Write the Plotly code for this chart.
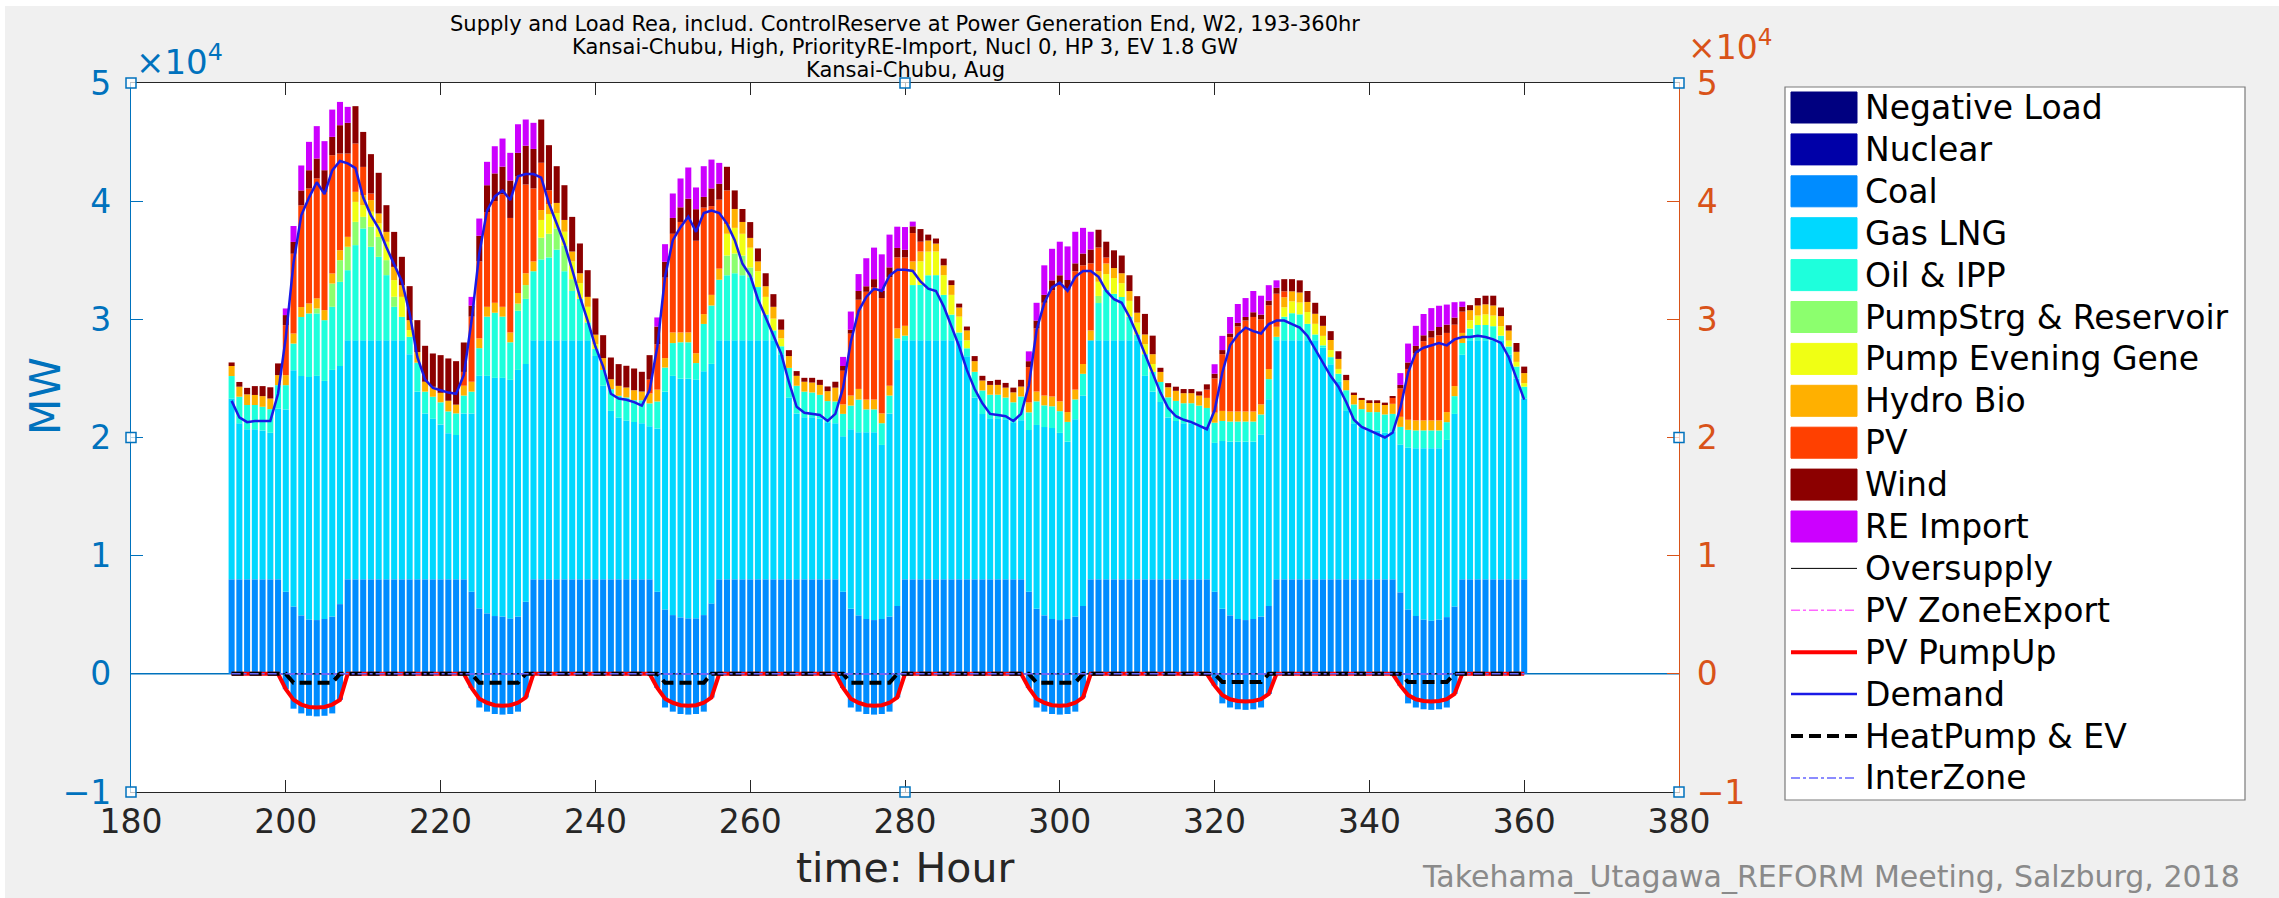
import plotly.graph_objects as go

hours = list(range(193, 361))

coal = [
 8000,8000,8000,8000,8000,8000,8000,6950,5700,4950,4600,4550,4650,4850,5900,8000,8000,8000,8000,8000,8000,8000,8000,8000,
 8000,8000,8000,8000,8000,8000,8000,6950,5540,5120,4890,4850,4690,4850,6100,8000,8000,8000,8000,8000,8000,8000,8000,8000,
 8000,8000,8000,8000,8000,8000,8000,6950,5450,4970,4780,4700,4700,4970,5960,8000,8000,8000,8000,8000,8000,8000,8000,8000,
 8000,8000,8000,8000,8000,8000,8000,6950,5500,4950,4650,4550,4650,4850,5740,8000,8000,8000,8000,8000,8000,8000,8000,8000,
 8000,8000,8000,8000,8000,8000,8000,6950,5500,4950,4650,4550,4650,4850,5740,8000,8000,8000,8000,8000,8000,8000,8000,8000,
 8000,8000,8000,8000,8000,8000,8000,6950,5500,4950,4650,4550,4650,4850,5740,8000,8000,8000,8000,8000,8000,8000,8000,8000,
 8000,8000,8000,8000,8000,8000,8000,6900,5450,4900,4600,4500,4600,4800,5700,8000,8000,8000,8000,8000,8000,8000,8000,8000,
]
gas_lng = [
 15300,13200,12700,12700,12600,12400,14460,15430,20000,20250,20520,20670,20140,20870,20150,20220,20220,20220,20220,20220,20220,20220,20220,19050,
 15880,14040,13600,13110,12370,12210,14040,15090,19680,20100,20160,20200,20190,20870,20120,20220,20220,20220,20220,20220,20220,20220,20220,18900,
 16380,14250,13690,13440,13310,13210,12950,13820,18430,20250,20200,20280,20200,20630,20270,20220,20220,20220,20220,20220,20220,20220,20220,19050,
 15380,14040,13710,13710,13610,13280,13210,13150,15200,15490,15790,15890,14720,17190,20810,20220,20220,20220,20220,20220,20220,20220,20220,18880,
 15390,13980,13620,13620,13540,13280,13470,13680,15560,15930,16150,15840,15000,16700,17810,20220,20220,20220,20220,20220,20220,20220,17220,15880,
 15000,13700,13400,13200,13200,13000,12800,12600,14200,14700,15000,15100,15000,15400,17500,20220,20220,20220,20220,20220,20220,19600,18200,16700,
 14300,13200,12800,12600,12600,12400,12500,12500,13700,14200,14500,14600,14500,15000,16300,19000,20220,20220,20220,20220,20220,19000,17000,15300,
]
oil_ipp = [
 1900,2250,2050,2050,2000,2000,1970,2050,2250,5000,5380,5280,5140,5340,7120,5940,8060,9470,7920,7070,5520,2840,1990,1470,
 2450,1840,1850,1870,1840,1830,1510,1840,2340,5010,5510,5180,3180,5010,5510,5850,6850,7020,7680,5850,4180,3510,1510,600,
 1340,1840,1840,1950,1850,1940,1940,2280,2040,2770,3080,3080,1400,4010,4940,5130,5510,5680,5510,5340,4510,2180,840,670,
 2510,2340,2170,2100,2000,1800,1840,1900,2000,2770,1940,1940,1840,1510,1840,400,4680,4690,5510,5520,3850,2180,670,670,
 2170,2000,2000,2000,1840,1700,2000,1500,2000,1840,1840,1840,1670,1670,1840,0,3160,4270,3940,3670,2000,500,1830,1670,
 1700,1700,1700,1700,1700,1700,1700,1700,1700,1700,1700,1700,1700,1700,1700,300,2000,2300,2200,1400,500,200,600,700,
 1700,1600,1600,1550,1550,1550,1500,1500,1500,1500,1500,1500,1500,1500,1500,1000,1000,1300,1300,1200,400,700,1000,1000,
]
pumpstrg = [
 0,0,0,0,0,0,0,0,0,0,0,420,0,1970,1840,1980,1970,980,1690,1690,1270,850,0,0,
 0,0,0,0,0,0,0,0,0,0,0,0,0,600,1170,0,1840,2000,1800,2170,1000,0,0,0,
 0,0,0,0,0,0,0,0,0,0,0,0,0,0,0,0,1670,1670,1670,830,0,0,0,0,
 0,0,0,0,0,0,0,0,0,0,0,0,0,0,0,0,0,0,0,0,0,0,0,0,
 0,0,0,0,0,0,0,0,0,0,0,0,0,0,0,0,600,0,0,0,0,0,0,0,
 0,0,0,0,0,0,0,0,0,0,0,0,0,0,0,0,0,0,0,0,0,0,0,0,
 0,0,0,0,0,0,0,0,0,0,0,0,0,0,0,0,0,0,0,0,0,0,0,0,
]
pump_evening = [
 0,0,0,0,0,0,0,0,0,0,0,0,0,0,0,0,1690,990,1270,1130,1550,1410,1690,570,
 0,0,0,0,0,0,0,0,0,0,0,0,0,0,0,0,1500,1670,1300,1170,1500,1340,1330,400,
 0,0,0,0,0,0,0,0,0,0,0,0,0,0,0,0,1840,2170,1840,1670,1340,1500,1000,670,
 0,0,0,0,0,0,0,0,0,0,0,0,0,0,0,0,1170,2000,2000,2000,1670,1670,1340,670,
 0,0,0,0,0,0,0,0,0,0,0,0,0,0,0,0,1200,1340,1340,1170,1340,1000,840,670,
 0,0,0,0,0,0,0,0,0,0,0,0,0,0,0,0,800,1000,1000,1000,900,800,600,400,
 0,0,0,0,0,0,0,0,0,0,0,0,0,0,0,0,700,800,900,900,800,500,400,300,
]
hydro_bio = [
 850,850,900,850,900,900,850,850,850,840,840,850,850,850,840,840,850,850,990,850,840,1120,990,840,
 900,840,840,800,900,740,830,840,830,830,840,830,830,900,1000,830,840,840,850,1000,840,830,840,800,
 1000,840,840,840,840,740,840,1000,800,900,830,830,830,830,900,940,830,1600,1000,830,830,900,1000,730,
 1000,840,840,840,840,840,1170,800,850,900,830,830,830,830,840,830,830,830,940,670,830,830,770,840,
 900,840,830,830,840,840,840,830,830,830,830,830,830,830,830,840,900,900,840,840,830,840,830,830,
 850,850,850,850,850,850,850,850,850,850,850,850,850,850,850,850,850,850,850,850,850,850,850,850,
 850,850,850,850,850,850,850,850,850,850,850,850,850,850,850,850,850,850,850,850,850,850,850,850,
]
pv = [
 0,0,0,0,0,0,0,4230,6750,8600,9730,10150,10010,10010,8180,7050,4090,2390,560,0,0,0,0,0,
 0,0,0,0,0,0,1170,5510,6510,8020,8610,9520,9690,9850,7510,6180,4000,1170,0,0,0,0,0,0,
 0,0,0,0,0,0,1170,3840,6810,8350,9350,9550,9520,9020,7510,5840,2840,0,0,0,0,0,0,0,
 0,0,0,0,0,0,0,2850,5240,7550,9120,9520,9760,9190,6010,5790,2400,830,0,0,0,0,0,0,
 0,0,0,0,0,0,0,3000,5340,7850,9000,10000,10350,10020,8350,5680,2000,500,0,0,0,0,0,0,
 0,0,0,0,0,0,700,2900,4800,6300,7200,7700,8000,7200,5400,2800,500,0,0,0,0,0,0,0,
 0,0,0,0,0,0,500,2400,4300,5700,6700,7000,7200,6700,5200,1800,0,0,0,0,0,0,0,0,
]
wind = [
 300,400,550,750,850,950,990,850,1000,1270,1550,1690,1830,1550,2400,2600,3160,2960,3330,3440,2260,2960,2400,2880,
 2700,3040,2820,3190,3580,3680,2490,930,2170,2270,2340,2340,3170,2010,3280,3340,3660,3820,3110,2940,2930,2520,2260,3070,
 1940,1840,1840,1840,1840,1670,2070,1500,1340,1340,1240,1770,2670,900,1500,1340,2000,1570,1100,1340,1100,1100,1070,870,
 500,400,330,400,430,400,500,400,330,740,470,670,600,830,800,640,570,1070,500,430,570,400,330,330,
 430,400,330,430,400,400,570,500,670,670,830,670,830,670,1000,1170,1500,1340,1500,1500,1340,1400,1740,1570,
 350,350,350,350,350,350,450,400,350,300,300,300,400,400,400,500,1030,1030,1030,930,930,850,750,650,
 450,150,100,150,150,150,150,300,550,600,500,600,700,700,600,400,430,630,730,830,730,450,750,550,
]
re_import = [
 0,0,0,0,0,0,0,560,1350,2110,2400,2740,2460,2310,1970,1350,0,0,0,0,0,0,0,0,
 0,0,0,0,0,0,0,740,1460,1980,2300,2380,2340,2420,2220,2210,0,0,0,0,0,0,0,0,
 0,0,0,0,0,0,0,770,1490,2070,2440,2640,1840,2600,2440,1770,0,0,0,0,0,0,0,0,
 0,0,0,0,0,0,0,770,1540,1430,2370,2670,3100,2770,1800,1930,400,0,0,0,0,0,0,0,
 0,0,0,0,0,0,0,830,1500,2500,2670,2840,2840,2670,2170,1500,0,0,0,0,0,0,0,0,
 0,0,0,0,0,0,0,800,1200,1400,1600,1600,1800,1600,1300,630,0,0,0,0,0,0,0,0,
 0,0,0,0,0,0,0,1000,1600,1700,1800,1900,1800,1700,1300,450,0,0,0,0,0,0,0,0,
]
negative_load = [0] * 168
nuclear = [0] * 168
pumpup_bars = [
 0,0,0,0,0,0,0,-1300,-2950,-3350,-3550,-3600,-3550,-3350,-2200,0,0,0,0,0,0,0,0,0,
 0,0,0,0,0,0,0,-1200,-2850,-3200,-3400,-3450,-3400,-3200,-2000,0,0,0,0,0,0,0,0,0,
 0,0,0,0,0,0,0,-1200,-2850,-3200,-3400,-3450,-3400,-3200,-2000,0,0,0,0,0,0,0,0,0,
 0,0,0,0,0,0,0,-1200,-2850,-3200,-3400,-3450,-3400,-3200,-2000,0,0,0,0,0,0,0,0,0,
 0,0,0,0,0,0,0,-1200,-2850,-3200,-3400,-3450,-3400,-3200,-2000,0,0,0,0,0,0,0,0,0,
 0,0,0,0,0,0,0,-1000,-2500,-2850,-3000,-3050,-3000,-2850,-1700,0,0,0,0,0,0,0,0,0,
 0,0,0,0,0,0,0,-1000,-2500,-2850,-3000,-3050,-3000,-2850,-1700,0,0,0,0,0,0,0,0,0,
]
demand = [
 23100,21700,21300,21400,21400,21400,23700,28500,34800,38800,40300,41600,40600,42600,43400,43200,42800,40300,38800,37700,36100,34700,33200,30500,
 26800,24900,24200,24000,23800,23700,25300,29900,35600,39200,40400,40900,40100,42100,42300,42300,42000,39800,38100,36400,34200,31900,29900,27700,
 26000,23700,23300,23200,23000,22700,24000,27700,33600,36700,37800,38700,37400,39000,39200,39000,38100,36700,34700,33700,31700,30200,28700,27100,
 24700,22600,22100,22000,21900,21400,22000,24200,28100,30700,31900,32600,32400,33700,34200,34200,34100,33200,32600,32400,31100,29400,27700,25700,
 24100,22900,22000,21900,21800,21400,22000,24400,29100,31400,32700,33100,32400,33600,34100,34100,33600,32400,31700,31400,30200,28700,27100,25400,
 23800,22500,21800,21500,21300,21000,20700,22300,25500,27800,28700,29300,29000,28800,29600,29900,29900,29600,29300,28600,27500,26300,25200,24300,
 23000,21500,20900,20600,20300,20000,20400,22500,25500,27200,27600,27800,28000,27800,28300,28500,28500,28600,28500,28300,28000,26800,25000,23200,
]
pv_pumpup = [
 0,0,0,0,0,0,0,-1300,-2200,-2600,-2800,-2850,-2800,-2600,-2200,0,0,0,0,0,0,0,0,0,
 0,0,0,0,0,0,0,-1200,-2100,-2450,-2650,-2700,-2650,-2450,-2000,0,0,0,0,0,0,0,0,0,
 0,0,0,0,0,0,0,-1200,-2100,-2450,-2650,-2700,-2650,-2450,-2000,0,0,0,0,0,0,0,0,0,
 0,0,0,0,0,0,0,-1200,-2100,-2450,-2650,-2700,-2650,-2450,-2000,0,0,0,0,0,0,0,0,0,
 0,0,0,0,0,0,0,-1200,-2100,-2450,-2650,-2700,-2650,-2450,-2000,0,0,0,0,0,0,0,0,0,
 0,0,0,0,0,0,0,-1000,-1800,-2150,-2300,-2350,-2300,-2150,-1700,0,0,0,0,0,0,0,0,0,
 0,0,0,0,0,0,0,-1000,-1800,-2150,-2300,-2350,-2300,-2150,-1700,0,0,0,0,0,0,0,0,0,
]
heatpump_ev = [
 0,0,0,0,0,0,0,0,-750,-750,-750,-750,-750,-750,0,0,0,0,0,0,0,0,0,0,
 0,0,0,0,0,0,0,0,-750,-750,-750,-750,-750,-750,0,0,0,0,0,0,0,0,0,0,
 0,0,0,0,0,0,0,0,-750,-750,-750,-750,-750,-750,0,0,0,0,0,0,0,0,0,0,
 0,0,0,0,0,0,0,0,-750,-750,-750,-750,-750,-750,0,0,0,0,0,0,0,0,0,0,
 0,0,0,0,0,0,0,0,-750,-750,-750,-750,-750,-750,0,0,0,0,0,0,0,0,0,0,
 0,0,0,0,0,0,0,0,-700,-700,-700,-700,-700,-700,0,0,0,0,0,0,0,0,0,0,
 0,0,0,0,0,0,0,0,-700,-700,-700,-700,-700,-700,0,0,0,0,0,0,0,0,0,0,
]
oversupply = [0] * 168
pv_zone_export = [0] * 168
interzone = [0] * 168

yticks = [-10000, 0, 10000, 20000, 30000, 40000, 50000]
ytick_text = ["\u22121", "0", "1", "2", "3", "4", "5"]
xticks = [180, 200, 220, 240, 260, 280, 300, 320, 340, 360, 380]

C_BLUE = "#0072BD"
C_ORANGE = "#D95319"
FONT = "DejaVu Sans"

bar_series = [
    ("Negative Load", negative_load, "#000080"),
    ("Nuclear", nuclear, "#0000A8"),
    ("Coal", coal, "#008CFF"),
    ("Gas LNG", gas_lng, "#00D8FF"),
    ("Oil & IPP", oil_ipp, "#1EFFDC"),
    ("PumpStrg & Reservoir", pumpstrg, "#8CFF6E"),
    ("Pump Evening Gene", pump_evening, "#F0FF14"),
    ("Hydro Bio", hydro_bio, "#FFB000"),
    ("PV", pv, "#FF4000"),
    ("Wind", wind, "#8C0000"),
    ("RE Import", re_import, "#CC00FF"),
]

fig = go.Figure()
for name, vals, col in bar_series:
    fig.add_trace(go.Bar(x=hours, y=vals, name=name, marker_color=col,
                         marker_line_width=0, showlegend=False))
fig.add_trace(go.Bar(x=hours, y=pumpup_bars, name="PumpUp load", marker_color="#008CFF",
                     marker_line_width=0, showlegend=False))

line_series = [
    ("Oversupply", oversupply, dict(color="black", width=1), "y"),
    ("PV ZoneExport", pv_zone_export, dict(color="#FF66FF", width=1.5, dash="dashdot"), "y"),
    ("InterZone", interzone, dict(color="#6666FF", width=1.5, dash="dashdot"), "y2"),
    ("PV PumpUp", pv_pumpup, dict(color="#FF0000", width=4), "y"),
    ("Demand", demand, dict(color="#1A1AE6", width=2.5), "y"),
    ("HeatPump & EV", heatpump_ev, dict(color="black", width=4, dash="12px,6px"), "y"),
]
for name, vals, ln, ax in line_series:
    fig.add_trace(go.Scatter(x=hours, y=vals, name=name, mode="lines", line=ln,
                             yaxis=ax, showlegend=False))

W, H = 2279, 898
L, R, T, B = 131, 600, 83, 106
PW, PH = W - L - R, H - T - B


def px(x):
    return (x - L) / PW


def py(y):
    return (H - B - y) / PH


shapes = []
annotations = []

# white edge strips of the screenshot
shapes.append(dict(type="rect", xref="paper", yref="paper", x0=px(0), x1=px(W), y0=py(6), y1=py(0),
                   fillcolor="white", line_width=0, layer="below"))
shapes.append(dict(type="rect", xref="paper", yref="paper", x0=px(0), x1=px(5), y0=py(H), y1=py(0),
                   fillcolor="white", line_width=0, layer="below"))

# bar baseline at zero
shapes.append(dict(type="line", xref="paper", yref="y", x0=0, x1=1, y0=0, y1=0,
                   line=dict(color=C_BLUE, width=1.5), layer="below"))

# axis selection handles
for hx, hy in [(180, 50000), (180, 20000), (180, -10000), (280, 50000), (280, -10000),
               (380, 50000), (380, 20000), (380, -10000)]:
    cx = L + (hx - 180) / 200 * PW
    cy = T + (50000 - hy) / 60000 * PH
    shapes.append(dict(type="rect", xref="paper", yref="paper",
                       x0=px(cx - 5), x1=px(cx + 5), y0=py(cy + 5), y1=py(cy - 5),
                       fillcolor="rgba(255,255,255,0.7)", line=dict(color=C_BLUE, width=1.5)))

# manual legend
LX0, LX1, LY0, LY1 = 1785, 2245, 87, 800
shapes.append(dict(type="rect", xref="paper", yref="paper", x0=px(LX0), x1=px(LX1),
                   y0=py(LY1), y1=py(LY0), fillcolor="white", line=dict(color="#7a7a7a", width=1.2)))
legend_entries = [(n, "bar", dict(color=c)) for n, _, c in bar_series] + \
                 [(n, "line", ln) for n, _, ln, _ in
                  [line_series[0], line_series[1], line_series[3], line_series[4], line_series[5], line_series[2]]]
for i, (name, kind, st) in enumerate(legend_entries):
    yc = 107.5 + 41.9 * i
    if kind == "bar":
        shapes.append(dict(type="rect", xref="paper", yref="paper", x0=px(1791), x1=px(1857),
                           y0=py(yc + 15.5), y1=py(yc - 15.5), fillcolor=st["color"],
                           line=dict(color=st["color"], width=1)))
    else:
        shapes.append(dict(type="line", xref="paper", yref="paper", x0=px(1791), x1=px(1857),
                           y0=py(yc), y1=py(yc),
                           line=dict(color=st["color"], width=st["width"], dash=st.get("dash", "solid"))))
    annotations.append(dict(text=name, xref="paper", yref="paper", x=px(1863), y=py(yc),
                            xanchor="left", yanchor="middle", showarrow=False,
                            font=dict(family=FONT, size=33, color="black")))

# title lines
for txt, yy in [("Supply and Load Rea, includ. ControlReserve at Power Generation End, W2, 193-360hr", 24),
                ("Kansai-Chubu, High, PriorityRE-Import, Nucl 0, HP 3, EV 1.8 GW", 47),
                ("Kansai-Chubu, Aug", 70)]:
    annotations.append(dict(text=txt, xref="paper", yref="paper", x=0.5, y=py(yy),
                            xanchor="center", yanchor="middle", showarrow=False, height=22,
                            font=dict(family=FONT, size=21, color="black")))

# exponent labels
annotations.append(dict(text="\u00d710<sup>4</sup>", xref="paper", yref="paper", x=px(134), y=py(84),
                        xanchor="left", yanchor="bottom", showarrow=False,
                        font=dict(family=FONT, size=34, color=C_BLUE)))
annotations.append(dict(text="\u00d710<sup>4</sup>", xref="paper", yref="paper", x=px(1686), y=py(69),
                        xanchor="left", yanchor="bottom", showarrow=False,
                        font=dict(family=FONT, size=33, color=C_ORANGE)))
# axis titles
annotations.append(dict(text="MW", xref="paper", yref="paper", x=px(45), y=py(396),
                        xanchor="center", yanchor="middle", textangle=-90, showarrow=False,
                        font=dict(family=FONT, size=42, color=C_BLUE)))
annotations.append(dict(text="time: Hour", xref="paper", yref="paper", x=0.5, y=py(868),
                        xanchor="center", yanchor="middle", showarrow=False,
                        font=dict(family=FONT, size=41, color="#262626")))
# watermark
annotations.append(dict(text="Takehama_Utagawa_REFORM Meeting, Salzburg, 2018", xref="paper", yref="paper",
                        x=px(2242), y=py(876), xanchor="right", yanchor="middle", showarrow=False,
                        font=dict(family=FONT, size=30, color="#8a8a8a")))

fig.update_layout(
    width=W, height=H, autosize=False,
    margin=dict(l=L, r=R, t=T, b=B, pad=0),
    paper_bgcolor="#F0F0F0", plot_bgcolor="white",
    barmode="relative", bargap=0.22,
    showlegend=False,
    xaxis=dict(range=[180, 380], tickvals=xticks, ticks="inside", ticklen=12, tickwidth=1,
               tickcolor="#262626", showline=True, linecolor="#262626", linewidth=1.2, mirror="ticks",
               showgrid=False, zeroline=False, ticklabelstandoff=0,
               tickfont=dict(family=FONT, size=33, color="#262626")),
    yaxis=dict(range=[-10000, 50000], tickvals=yticks, ticktext=ytick_text, ticks="inside", ticklen=12,
               tickcolor=C_BLUE, showline=True, linecolor=C_BLUE, linewidth=1.2, showgrid=False,
               zeroline=False, ticklabelstandoff=12,
               tickfont=dict(family=FONT, size=33, color=C_BLUE)),
    yaxis2=dict(range=[-10000, 50000], tickvals=yticks, ticktext=ytick_text, ticks="inside", ticklen=12,
                tickcolor=C_ORANGE, showline=True, linecolor=C_ORANGE, linewidth=1.2, showgrid=False,
                zeroline=False, overlaying="y", side="right", ticklabelstandoff=10,
                tickfont=dict(family=FONT, size=33, color=C_ORANGE)),
    shapes=shapes, annotations=annotations,
)

fig.write_html("out.html")
